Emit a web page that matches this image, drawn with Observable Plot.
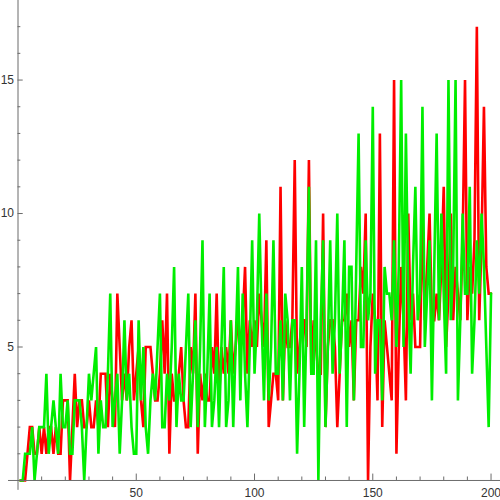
<!DOCTYPE html>
<html><head><meta charset="utf-8">
<script src="https://cdn.jsdelivr.net/npm/d3@7"></script>
<script src="https://cdn.jsdelivr.net/npm/@observablehq/plot@0.6"></script>
<style>body{margin:0;background:#fff}#chart svg{display:block}</style>
</head><body><div id="chart"></div>
<script>
const redValues = [
0,0,0,1,2,2,1,1,2,1,
2,1,2,2,1,2,1,1,3,3,
3,0,2,4,2,3,3,2,2,3,
2,2,3,2,4,4,4,2,4,3,
2,7,5,3,4,3,5,6,3,4,
5,3,2,5,5,5,4,3,3,4,
6,4,7,1,4,3,3,4,5,3,
2,2,5,4,7,1,4,3,4,3,
3,5,4,7,3,5,4,5,4,6,
4,5,6,5,6,8,4,6,5,6,
5,7,6,5,9,2,3,4,4,3,
11,3,6,5,5,6,12,4,5,6,
6,5,12,4,6,5,4,4,10,2,
5,6,6,5,2,4,6,6,7,5,
6,3,6,6,8,7,10,0,5,7,
6,3,13,2,6,5,4,3,15,1,
5,8,6,3,10,6,7,5,5,5,
10,6,8,10,6,6,7,6,8,11,
5,7,10,6,8,7,6,9,15,6,
8,7,9,17,6,9,14,8,7,7
];
const greenValues = [
0,0,1,1,1,2,0,1,2,2,
2,4,1,2,3,2,1,4,2,2,
3,1,1,3,3,3,2,0,2,4,
3,4,5,1,3,2,2,4,7,2,
3,4,1,3,6,3,4,2,1,1,
6,3,5,2,1,3,4,3,5,7,
2,2,4,3,5,8,2,4,3,3,
5,7,2,4,6,2,5,9,2,4,
7,2,3,5,2,5,8,2,3,6,
2,5,8,3,7,4,2,5,9,4,
6,10,6,3,7,3,5,9,4,4,
6,3,7,6,3,6,6,1,4,8,
2,6,11,4,4,9,0,6,9,2,
5,9,4,6,10,4,6,9,2,8,
8,3,8,13,5,5,9,6,7,14,
4,6,6,3,8,7,7,6,9,5,
8,15,5,13,7,4,8,11,6,7,
14,5,7,9,3,8,13,6,10,7,
4,15,6,8,15,3,6,10,7,7,
11,4,6,9,7,10,8,5,2,7
];
const xMajorTicks = [50, 100, 150, 200];
const xMinorTicks = [10,20,30,40,60,70,80,90,110,120,130,140,160,170,180,190];
const yMajorTicks = [5, 10, 15];
const yMinorTicks = [1,2,3,4,6,7,8,9,11,12,13,14,16,17];

const red = redValues.map((v, i) => ({x: i + 1, y: v}));
const green = greenValues.map((v, i) => ({x: i + 1, y: v}));

const axisColor = "#6b6b6b";
const chart = Plot.plot({
  width: 500, height: 500,
  marginTop: 0, marginBottom: 0, marginLeft: 0, marginRight: 0,
  x: {domain: [-7.4, 204], axis: null},
  y: {domain: [-0.75, 17.98], axis: null},
  style: {fontFamily: "'Liberation Sans', Arial, sans-serif", fontSize: "12px", background: "#fff"},
  marks: [
    Plot.line(red, {x: "x", y: "y", stroke: "#ff0000", strokeWidth: 2.6, strokeLinejoin: "miter", strokeMiterlimit: 2}),
    Plot.line(green, {x: "x", y: "y", stroke: "#00ee00", strokeWidth: 2.6, strokeLinejoin: "miter", strokeMiterlimit: 2}),
    Plot.ruleY([0], {x1: -4, x2: 204, stroke: axisColor, strokeWidth: 1}),
    Plot.ruleX([0], {y1: -0.37, y2: 17.98, stroke: axisColor, strokeWidth: 1}),
    Plot.ruleX(xMajorTicks, {x: d => d, y1: 0, y2: 0.24, stroke: axisColor}),
    Plot.ruleX(xMinorTicks, {x: d => d, y1: 0, y2: 0.13, stroke: axisColor}),
    Plot.ruleY(yMajorTicks, {y: d => d, x1: 0, x2: 2.2, stroke: axisColor}),
    Plot.ruleY(yMinorTicks, {y: d => d, x1: 0, x2: 1.2, stroke: axisColor}),
    Plot.text(xMajorTicks, {x: d => d, y: 0, dy: 13, text: d => String(d), fill: "#333"}),
    Plot.text(yMajorTicks, {x: 0, y: d => d, dx: -4, textAnchor: "end", text: d => String(d), fill: "#333"})
  ]
});
document.getElementById("chart").appendChild(chart);
</script>
</body></html>
